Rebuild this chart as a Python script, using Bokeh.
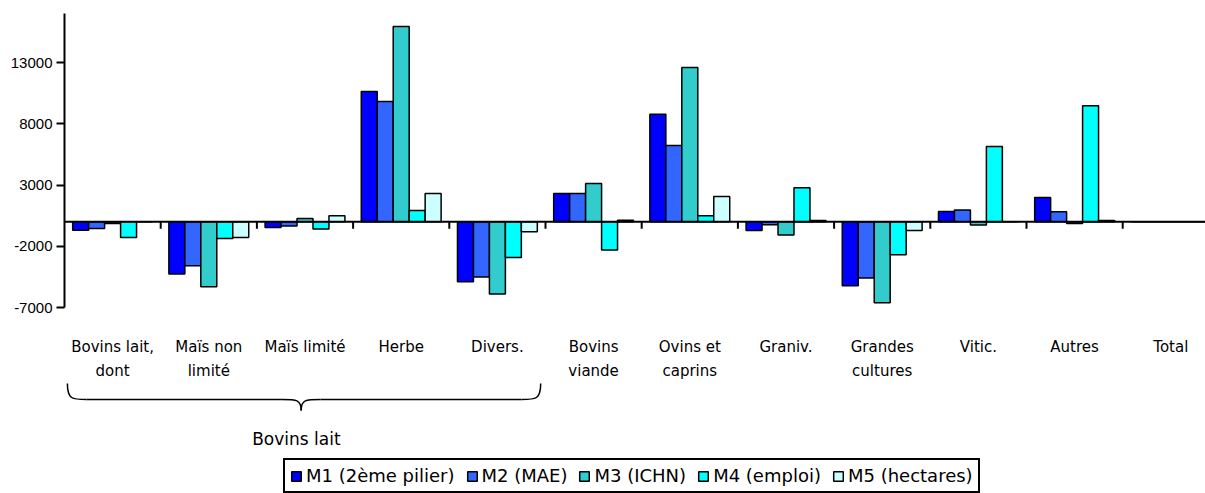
import numpy as np
from bokeh.plotting import figure
from bokeh.models import (Range1d, LinearAxis, FixedTicker, Span, ColumnDataSource,
                          Legend, LegendItem)
from bokeh.core.properties import value
from bokeh.embed import file_html
from bokeh.resources import INLINE

# --- data -------------------------------------------------------------
categories = ["Bovins lait,\ndont", "Maïs non\nlimité", "Maïs limité", "Herbe",
              "Divers.", "Bovins\nviande", "Ovins et\ncaprins", "Graniv.",
              "Grandes\ncultures", "Vitic.", "Autres", "Total"]
series_names = ["M1 (2ème pilier)", "M2 (MAE)", "M3 (ICHN)", "M4 (emploi)", "M5 (hectares)"]
m1 = [-700, -4270, -460, 10640, -4900, 2310, 8780, -710, -5220, 840, 1985, 0]
m2 = [-550, -3590, -350, 9820, -4515, 2310, 6230, -250, -4600, 955, 816, 0]
m3 = [-150, -5300, 270, 15940, -5900, 3130, 12600, -1090, -6610, -270, -140, 0]
m4 = [-1280, -1360, -600, 920, -2915, -2310, 490, 2775, -2690, 6150, 9470, 0]
m5 = [0, -1280, 490, 2310, -816, 130, 2070, 100, -710, 0, 100, 0]
y_ticks = [-7000, -2000, 3000, 8000, 13000]
group_label = "Bovins lait"
group_span = (0, 5)   # categories covered by the brace

colors = ["#0000FF", "#3366FF", "#33CCCC", "#00FFFF", "#CCFFFF"]
series = [m1, m2, m3, m4, m5]

# --- geometry ---------------------------------------------------------
W, H = 1205, 493
LEFT = 64
n_cat = len(categories)
cat_px = 96.2
x_end = (W - LEFT) / cat_px

y_top_val, y_bot_val = 17000, -7000
y_top_px, y_bot_px = 13, 307
per_px = (y_top_val - y_bot_val) / (y_bot_px - y_top_px)


def px_to_val(py):
    return y_top_val - (py - y_top_px) * per_px


p = figure(width=W, height=H, output_backend="svg", toolbar_location=None,
           x_axis_type=None, y_axis_type=None,
           x_range=Range1d(0, x_end), y_range=Range1d(px_to_val(H), px_to_val(0)),
           min_border_left=LEFT, min_border_right=0, min_border_top=0, min_border_bottom=0)
p.outline_line_color = None
p.xgrid.visible = False
p.ygrid.visible = False
p.background_fill_color = "white"
p.border_fill_color = "white"

yaxis = LinearAxis(ticker=FixedTicker(ticks=y_ticks), bounds=(y_bot_val, y_top_val))
yaxis.axis_line_color = "black"
yaxis.axis_line_width = 2
yaxis.major_tick_line_width = 2
yaxis.major_tick_out = 8
yaxis.major_tick_in = 0
yaxis.minor_tick_line_color = None
yaxis.major_label_standoff = 4
yaxis.major_label_text_font = "Liberation Sans"
yaxis.major_label_text_font_size = "15px"
yaxis.major_label_text_color = "black"
yaxis.major_label_overrides = {t: str(t) for t in y_ticks}
p.add_layout(yaxis, "left")

# bars
bar_w = 0.166
offsets = (np.arange(5) - 2) * bar_w
centers = np.arange(n_cat) + 0.5
items = []
for k, (vals, col, name) in enumerate(zip(series, colors, series_names)):
    src = ColumnDataSource(dict(x=centers + offsets[k], top=vals))
    r = p.vbar(x="x", top="top", bottom=0, width=bar_w, source=src,
               fill_color=col, line_color="black", line_width=1.5)
    items.append(LegendItem(label=name, renderers=[r]))

# category axis along zero
p.add_layout(Span(location=0, dimension="width", line_color="black", line_width=2))
tick_x = np.arange(1, n_cat)
p.segment(x0=tick_x, y0=0, x1=tick_x, y1=-7 * per_px, line_color="black", line_width=2)

# category labels (two rows)
line1 = [c.split("\n")[0] for c in categories]
line2 = [c.split("\n")[1] if "\n" in c else "" for c in categories]
for txt, py in ((line1, 346), (line2, 370)):
    p.text(x=centers, y=[px_to_val(py)] * n_cat, text=txt, text_align="center",
           text_baseline="alphabetic", text_font=value("DejaVu Sans"),
           text_font_size="15px", text_color="black")

# brace under the first group of categories
a, b = group_span[0] + 0.03, group_span[1] - 0.05
mid = (a + b) / 2 - 0.03
yt, ym, yp = px_to_val(383), px_to_val(399), px_to_val(410)
r = 0.2
p.bezier(x0=[a, mid - r, mid, b - r], y0=[yt, ym, yp, ym],
         x1=[a + r, mid, mid + r, b], y1=[ym, yp, ym, yt],
         cx0=[a, mid - 0.05, mid, b - 0.05], cy0=[ym, ym, ym, ym],
         cx1=[a + 0.05, mid, mid + 0.05, b], cy1=[ym, ym, ym, ym],
         line_color="black", line_width=1.5)
p.segment(x0=[a + r, mid + r], y0=[ym, ym], x1=[mid - r, b - r], y1=[ym, ym],
          line_color="black", line_width=1.5)
p.text(x=[mid - 0.05], y=[px_to_val(438)], text=[group_label], text_align="center",
       text_baseline="alphabetic", text_font=value("DejaVu Sans"),
       text_font_size="17px", text_color="black")

legend = Legend(items=items, orientation="horizontal", location=(283 - LEFT, 0))
legend.border_line_color = "black"
legend.border_line_alpha = 1
legend.border_line_width = 2
legend.background_fill_color = "white"
legend.background_fill_alpha = 1
legend.label_text_font = "DejaVu Sans"
legend.label_text_font_size = "18px"
legend.label_text_color = "black"
legend.glyph_width = 12
legend.glyph_height = 12
legend.label_standoff = 4
legend.spacing = 11
legend.padding = 5
legend.margin = 0
legend.label_height = 20
p.add_layout(legend)

open("out.html", "w").write(file_html(p, INLINE))
